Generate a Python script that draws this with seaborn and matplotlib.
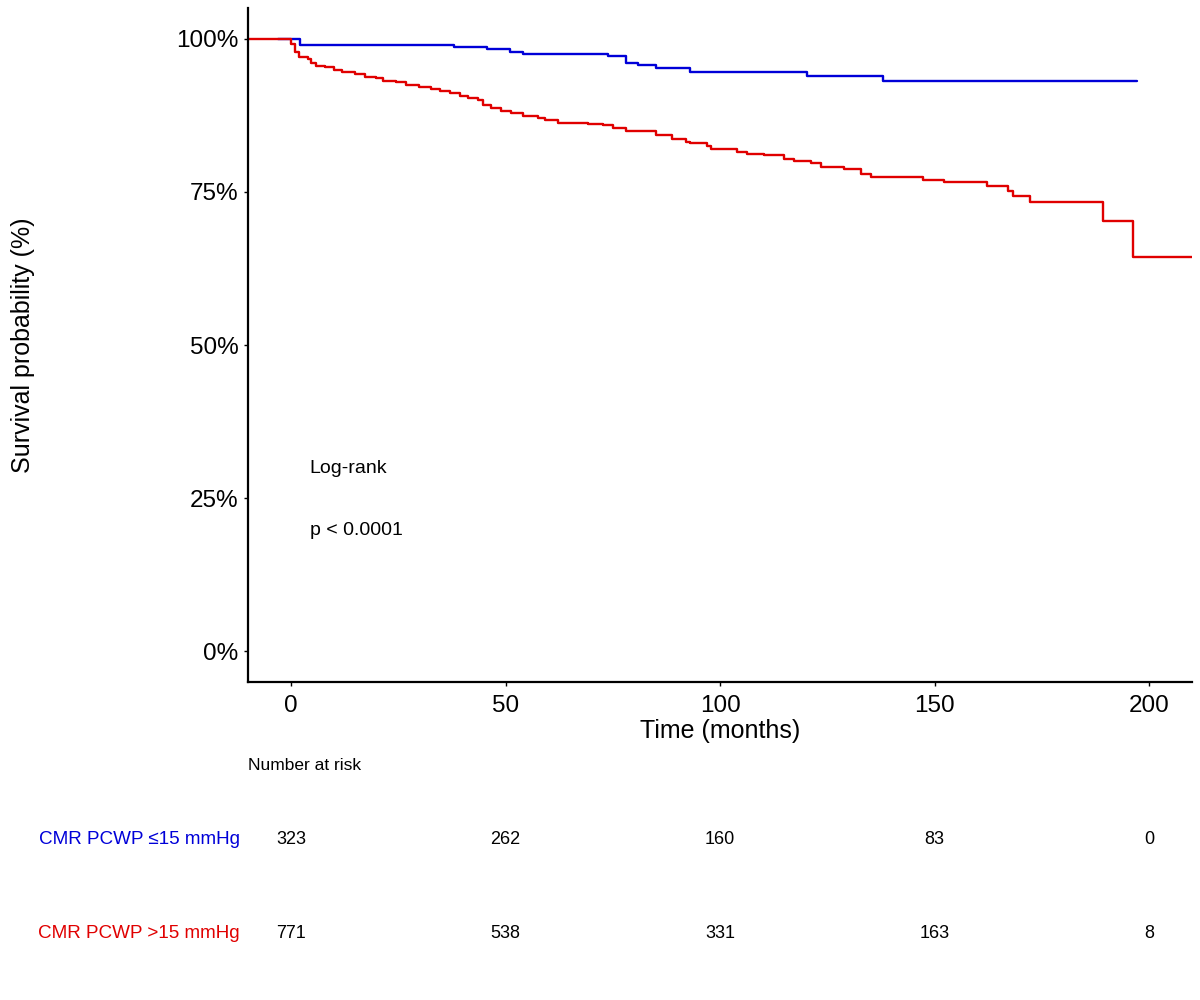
import pandas as pd
import seaborn as sns
import matplotlib.pyplot as plt
from matplotlib.transforms import blended_transform_factory

# Kaplan-Meier step points (time in months, survival fraction)
low_time = [-3, 2, 38, 45.7, 51, 54, 73.9, 78, 80.9, 85, 93.1, 120.2, 138, 197.2]
low_surv = [1.0, 0.990, 0.986, 0.9826, 0.979, 0.9745, 0.971, 0.961, 0.9565,
            0.9516, 0.9457, 0.9386, 0.9305, 0.9305]

high_time = [-10, 0.0, 0.9, 1.8, 4.0, 4.7, 5.8, 7.9, 10.0, 11.9, 14.9, 17.2, 19.8,
             21.5, 24.5, 26.8, 29.8, 32.7, 34.7, 37.0, 39.4, 41.3, 43.6, 44.8, 46.7,
             49.0, 51.3, 54.1, 57.6, 59.2, 62.3, 69.3, 72.8, 75.1, 78.0, 80.3, 85.0,
             88.8, 92.0, 93.1, 97.0, 97.8, 104.0, 106.3, 110.2, 114.9, 117.2, 121.1,
             123.5, 128.9, 132.8, 135.1, 147.2, 152.1, 162.2, 167.0, 168.2, 172.2,
             189.2, 196.2, 212]
high_surv = [1.0, 0.992, 0.979, 0.9695, 0.9668, 0.9603, 0.956, 0.9532, 0.9495, 0.9457,
             0.9425, 0.9376, 0.935, 0.9316, 0.9295, 0.925, 0.9218, 0.9186, 0.915, 0.912,
             0.907, 0.903, 0.8995, 0.8925, 0.887, 0.8827, 0.879, 0.874, 0.8708, 0.867,
             0.8626, 0.8605, 0.8583, 0.854, 0.850, 0.8485, 0.843, 0.836, 0.831, 0.830,
             0.8246, 0.8198, 0.815, 0.811, 0.8094, 0.804, 0.800, 0.7964, 0.790, 0.7866,
             0.7785, 0.775, 0.770, 0.766, 0.7595, 0.7513, 0.743, 0.7334, 0.7026, 0.6438,
             0.6438]

groups = ['CMR PCWP \u226415 mmHg', 'CMR PCWP >15 mmHg']
colors = {groups[0]: '#0000D8', groups[1]: '#E00000'}

# number at risk table
risk_times = [0, 50, 100, 150, 200]
risk_low = [323, 262, 160, 83, 0]
risk_high = [771, 538, 331, 163, 8]

df = pd.concat([
    pd.DataFrame({'time': low_time, 'surv': low_surv, 'group': groups[0]}),
    pd.DataFrame({'time': high_time, 'surv': high_surv, 'group': groups[1]}),
])

sns.set_theme(style='white')
plt.rcParams['font.family'] = ['Liberation Sans', 'DejaVu Sans']
plt.rcParams.update({'text.color': 'black', 'axes.labelcolor': 'black',
                     'xtick.color': 'black', 'ytick.color': 'black'})

fig = plt.figure(figsize=(12, 10), dpi=100)
ax = fig.add_axes([0.2067, 0.318, 0.7867, 0.674])

sns.lineplot(data=df, x='time', y='surv', hue='group', palette=colors,
             estimator=None, sort=False, drawstyle='steps-post', linewidth=1.7,
             legend=False, ax=ax)

ax.set_xlim(-10, 210)
ax.set_ylim(-0.05, 1.05)
ax.set_xticks([0, 50, 100, 150, 200])
ax.set_yticks([0, 0.25, 0.5, 0.75, 1.0])
ax.set_yticklabels(['0%', '25%', '50%', '75%', '100%'])
ax.tick_params(axis='both', labelsize=17.5, length=3, width=1, color='black',
               direction='out', bottom=True, left=True)
ax.tick_params(axis='x', pad=6)
ax.tick_params(axis='y', pad=4)
for side in ['top', 'right']:
    ax.spines[side].set_visible(False)
for side in ['left', 'bottom']:
    ax.spines[side].set_color('black')
    ax.spines[side].set_linewidth(1.6)
ax.set_xlabel('Time (months)', fontsize=18, labelpad=2)
ax.set_ylabel('Survival probability (%)', fontsize=18)
ax.yaxis.set_label_coords(-0.226, 0.5)

ax.text(4.4, 0.298, 'Log-rank', fontsize=14, va='center')
ax.text(4.4, 0.197, 'p < 0.0001', fontsize=14, va='center')

# risk table
rax = fig.add_axes([0.2067, 0.02, 0.7867, 0.23])
rax.set_xlim(-10, 210)
rax.set_ylim(1.49, -0.957)
rax.axis('off')
lab_tr = blended_transform_factory(rax.transAxes, rax.transData)
rax.text(0, -0.787, 'Number at risk', fontsize=12.5, va='center', ha='left',
         transform=lab_tr)
for row, (name, counts) in enumerate(zip(groups, [risk_low, risk_high])):
    rax.text(-0.0085, row, name, fontsize=13.6, color=colors[name],
             ha='right', va='center', transform=lab_tr)
    for t, n in zip(risk_times, counts):
        rax.text(t, row, str(n), fontsize=13, ha='center', va='center')

fig.savefig('out.png', dpi=100)
